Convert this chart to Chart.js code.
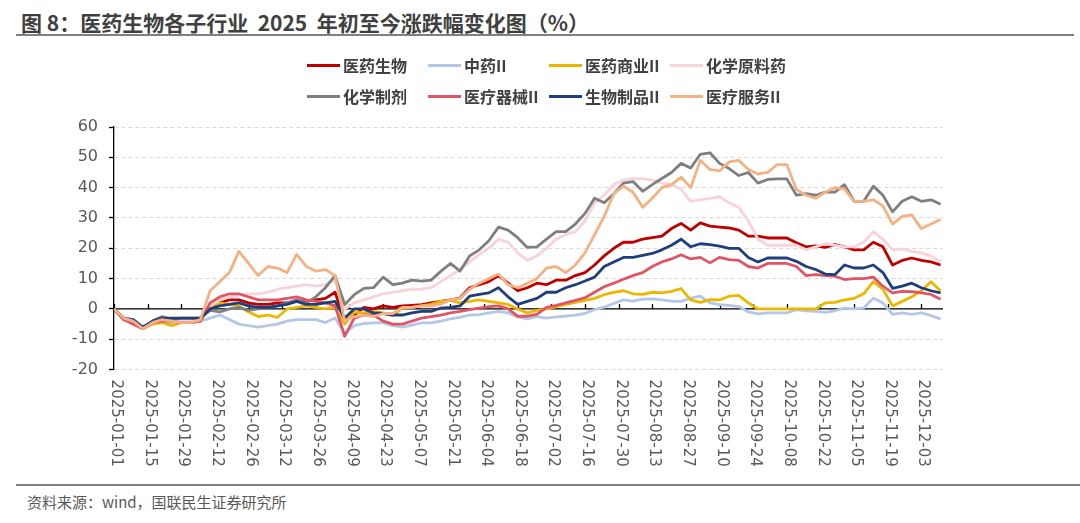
<!DOCTYPE html>
<html lang="zh">
<head>
<meta charset="UTF-8">
<title>医药生物各子行业 2025 年初至今涨跌幅变化图</title>
<script src="https://cdn.jsdelivr.net/npm/chart.js"></script>
<style>
  body { margin: 0; width: 1080px; height: 523px; background: #fff; position: relative; overflow: hidden;
         font-family: "Noto Sans CJK SC", "Noto Sans", sans-serif; }
  .title { position: absolute; left: 21px; top: 7px; font-size: 21px; font-weight: bold; color: #404040; white-space: pre; }
  .rule-top { position: absolute; left: 16px; top: 34px; width: 1058px; height: 2px; background: #808080; }
  .wrap { position: absolute; left: 0; top: 0; width: 1080px; height: 485px; }
  .legend { position: absolute; left: 307px; top: 54px; display: grid; grid-template-columns: repeat(4, 121px); row-gap: 9px; }
  .legend div { display: flex; align-items: center; height: 22px; font-size: 16px; font-weight: bold; color: #404040; white-space: nowrap; }
  .legend span { display: inline-block; width: 33px; height: 3px; margin-right: 3px; }
  .rule-bottom { position: absolute; left: 16px; top: 484px; width: 1064px; height: 2px; background: #808080; }
  .source { position: absolute; left: 27px; top: 491px; font-size: 15px; color: #595959; }
</style>
</head>
<body>
<div class="title">图 8：医药生物各子行业  2025  年初至今涨跌幅变化图（%）</div>
<div class="rule-top"></div>
<div class="wrap"><canvas id="chart"></canvas></div>
<div class="legend" id="legend"></div>
<div class="rule-bottom"></div>
<div class="source">资料来源：wind，国联民生证券研究所</div>

<script>
// days since 2025-01-01
const days = [0,4,8,12,16,20,24,28,32,36,40,44,48,52,56,60,64,68,72,76,80,84,88,92,96,100,104,108,112,116,
  120,124,128,132,136,140,144,148,152,156,160,164,168,172,176,180,184,188,192,196,200,204,208,212,216,220,224,228,232,236,
  240,244,248,252,256,260,264,268,272,276,280,284,288,292,296,300,304,308,312,316,320,324,328,332,336,340,344];

const tickDays = [0,14,28,42,56,70,84,98,112,126,140,154,168,182,196,210,224,238,252,266,280,294,308,322,336];
const tickLabels = ['2025-01-01','2025-01-15','2025-01-29','2025-02-12','2025-02-26','2025-03-12','2025-03-26',
  '2025-04-09','2025-04-23','2025-05-07','2025-05-21','2025-06-04','2025-06-18','2025-07-02','2025-07-16',
  '2025-07-30','2025-08-13','2025-08-27','2025-09-10','2025-09-24','2025-10-08','2025-10-22','2025-11-05',
  '2025-11-19','2025-12-03'];

const names = ['医药生物','中药II','医药商业II','化学原料药','化学制剂','医疗器械II','生物制品II','医疗服务II'];
const colors = ['#C00000','#B4C7E7','#EBB700','#F9D3DA','#7F7F7F','#E05565','#203E7C','#F4B183'];

const yiyao = [0,-3,-4.5,-6.5,-4.5,-3.5,-4,-4,-4,-3, 1,2,3,3,2,1.5,1.5,2,2,2.5,
  2.5,3,3.5,5.5,-4,-2,0.5,0,1,0.5, 1,1.2,1.4,2,2.5,3,3.6,7,8,9,
  11,8.5,6,7,8.5,8,9.5,9.5,11,12, 14.5,17.5,20,22,22,23,23.5,24,26.5,28.2,
  26,28.4,27.3,27,26.7,26,24,24,23.4,23.4, 23.4,21.8,20.5,20.8,20.3,21.2,20.5,19.5,19.5,22,
  20.5,14.5,16,16.8,16,15.5,14.5];
const zhongyao = [0,-3,-4.5,-6.5,-5,-4.5,-4.5,-4.5,-4.5,-4, -3,-2,-3.5,-5,-5.5,-6,-5.5,-5,-4,-3.5,
  -3.5,-3.5,-4.5,-3,-8,-5.5,-4.8,-4.6,-4.5,-5.5, -6,-5.3,-4.6,-4.6,-4,-3.3,-2.8,-2,-1.9,-1.3,
  -0.8,-1.3,-2.6,-3.3,-2.5,-3,-2.6,-2.4,-2,-1.5, -0.2,0.6,1.8,3,2.6,3.2,3.3,3,2.6,2.5,
  3.6,4.2,2,1.4,1.2,0.8,-1,-1.6,-1.3,-1.3, -1.3,-0.2,-0.6,-0.8,-1.1,-0.6,0.3,0,0.3,3.5,
  2,-1.8,-1.3,-1.8,-1.3,-2.2,-3.3];
const shangye = [0,-3.5,-4.5,-6.5,-5,-4.5,-5.5,-4.5,-4.5,-4, 1,2,1.5,1,-1,-2.5,-2,-2.8,0,0.5,
  1,0.5,0,0.5,-5,-1,-1.3,-0.8,-1.3,-2.2, 0.3,0.5,1,1.5,2.5,2.8,2,2.5,3,2.5,
  2,1.5,0,-1.3,-0.5,0,0.8,1.5,2.2,2.8, 3.5,4.7,5.5,6,5,4.8,5.5,5.3,5.8,6.7,
  3,2.2,3.1,3,4.2,4.5,2,0,0,0, 0,0,0,0,2,2.2,3,3.5,5,9,
  6.5,1,2.5,4,6,9,6];
const yuanliao = [0,-3,-4.5,-6.5,-4.5,-3.5,-4,-4,-4,-3.5, 1,3,4,4.5,5,5,5.5,6.5,7,7.5,
  8,7.5,8,9.5,0,2,3,4,5,5.5, 6,6.5,6.5,7,9,11,13,15.5,18,20,
  23,22,18.5,16,17.5,20,23,24.5,25.5,29, 35,37.5,41,42.5,43,43,42.5,41.5,41,39.5,
  35.5,36,36.5,37,35,33.5,29,23,21,21, 21,21,19.5,20.5,21.5,21,20.5,20.5,22,25.5,
  23,19.5,19.8,19,18.5,17.5,15.5];
const zhiji = [0,-3,-4.5,-6.5,-4,-2.5,-3.5,-3,-3,-3, -0.5,-1,0,0.5,-0.5,0,0.5,1,2,3,
  2,4,7,11,1.5,4.7,6.8,7,10.5,8, 8.5,9.5,9.2,9.5,12.4,15,12.5,17.5,19.5,22.5,
  27,26,23.5,20.3,20.5,23,25.5,25.5,28,31.5, 36.5,35,38,41.5,42,38.8,41,43,45,48,
  46.5,51,51.5,48,46.3,44,45,41.5,42.7,42.9, 42.9,37.5,38,37.5,38.5,38.5,41,35.5,35.5,40.5,
  37.5,32,35.5,37,35.5,36,34.5];
const qixie = [0,-3.5,-5,-6.5,-4.5,-4,-4,-4.5,-4.5,-4, 2,4,5,5,4,3,3,3,3.5,4,
  3,2.5,2,1,-9,-3,-2,-2,-4,-5, -5,-4,-3,-2.5,-2,-1.3,-0.8,-0.2,0.3,0.8,
  1,0,-2.4,-2.4,-1.8,0.5,1.2,2,2.8,3.7, 5.5,7.3,8.5,9.8,11,12,14,15.5,16.5,17.9,
  16.5,17,15.2,17,16.3,16,14,13.5,15,15, 15,14,11,11.3,11,10.8,9.7,10,10,10.5,
  7.5,5.3,5.8,5.7,5.3,4.8,3.2];
const shengwu = [0,-3,-3.5,-6,-4,-3,-3,-3,-3,-3, 0,1,1.5,2,1,0.5,0.5,1,1.5,2.5,
  1.5,1.5,2,2.5,-3,0,0,-1.3,-1.5,-2, -2,-1.3,-0.8,-0.8,0.3,0.5,1,4.2,4.8,5.3,
  7,4,1.5,2.5,3.5,5.5,5.5,7,8,9.2, 10.5,14,15.5,17,17,17.7,18.3,19.5,21,23,
  20.5,21.5,21.2,20.7,20,20,17,15.5,16.8,16.8, 16.8,15.7,14,13,11.5,11.3,14.5,13.5,13.5,14.5,
  12,6.8,7.5,8.5,7,6,5.3];
const fuwu = [0,-3,-4,-6.5,-4.5,-3.5,-4,-4.5,-4.5,-3.5, 6,9,12,19,15,11,14,13.5,12,18,
  14,12.5,13,11,-4,-2.5,-2,-2.5,-1.5,-1.5, 0.5,0.5,1,1,1.5,3,3.5,6.5,8.5,10,
  11.5,8,7,8.5,10,13.5,14,12,14.5,18.5, 24.5,30.5,38,40.5,38.5,33.5,36.5,40,41,43.5,
  40,49,46,45.5,48.5,49,46,44.5,45,47.6, 47.6,39.4,37.5,36.5,38.5,40,39.5,35.5,35.5,36,
  34,28,30.5,31,26.5,28,29.5];

const seriesValues = [yiyao, zhongyao, shangye, yuanliao, zhiji, qixie, shengwu, fuwu];

// html legend, 4 per row
const legendEl = document.getElementById('legend');
names.forEach((n, i) => {
  const item = document.createElement('div');
  item.innerHTML = `<span style="background:${colors[i]}"></span>${n}`;
  legendEl.appendChild(item);
});

const axisDecor = {
  id: 'axisDecor',
  beforeDatasetsDraw(chart) {
    const { ctx, chartArea, scales: { x, y } } = chart;
    const y0 = y.getPixelForValue(0);
    ctx.save();
    ctx.strokeStyle = '#000';
    ctx.lineWidth = 1.3;
    ctx.beginPath();
    ctx.moveTo(chartArea.left, y0);
    ctx.lineTo(chartArea.right, y0);
    tickDays.forEach(d => {
      const px = Math.round(x.getPixelForValue(d)) + 0.5;
      ctx.moveTo(px, y0);
      ctx.lineTo(px, y0 - 5);
    });
    ctx.stroke();
    ctx.restore();
  },
  afterDraw(chart) {
    const { ctx, chartArea, scales: { x } } = chart;
    ctx.save();
    ctx.font = '15px "DejaVu Sans"';
    ctx.fillStyle = '#595959';
    ctx.textAlign = 'left';
    ctx.textBaseline = 'middle';
    tickDays.forEach((d, i) => {
      ctx.save();
      ctx.translate(x.getPixelForValue(d) + 2, chartArea.bottom + 10);
      ctx.rotate(Math.PI / 2);
      ctx.fillText(tickLabels[i], 0, 0);
      ctx.restore();
    });
    ctx.restore();
  }
};

new Chart(document.getElementById('chart'), {
  type: 'line',
  data: {
    datasets: names.map((n, i) => ({
      label: n,
      data: days.map((d, k) => ({ x: d, y: seriesValues[i][k] })),
      borderColor: colors[i],
      backgroundColor: colors[i],
      borderWidth: 2.8,
      pointRadius: 0,
      tension: 0,
      borderJoinStyle: 'round',
      order: names.length - i
    }))
  },
  options: {
    responsive: true,
    maintainAspectRatio: false,
    animation: false,
    layout: { padding: { top: 127, right: 137, left: 0, bottom: 0 } },
    plugins: { legend: { display: false }, tooltip: { enabled: false } },
    scales: {
      x: {
        type: 'linear', min: 0, max: 345,
        ticks: { display: false },
        grid: { display: false },
        border: { display: false },
        afterFit(s) { s.height = 115.4; }
      },
      y: {
        min: -20, max: 60,
        ticks: { stepSize: 10, color: '#595959', padding: 11, font: { family: 'DejaVu Sans', size: 16 } },
        grid: { color: '#d9d9d9', lineWidth: 1, tickLength: 5, tickColor: '#000', tickWidth: 1.3 },
        border: { display: true, color: '#000', width: 1.3, dash: [4, 3] },
        afterFit(s) { s.width = 114; }
      }
    }
  },
  plugins: [axisDecor]
});
</script>
</body>
</html>
